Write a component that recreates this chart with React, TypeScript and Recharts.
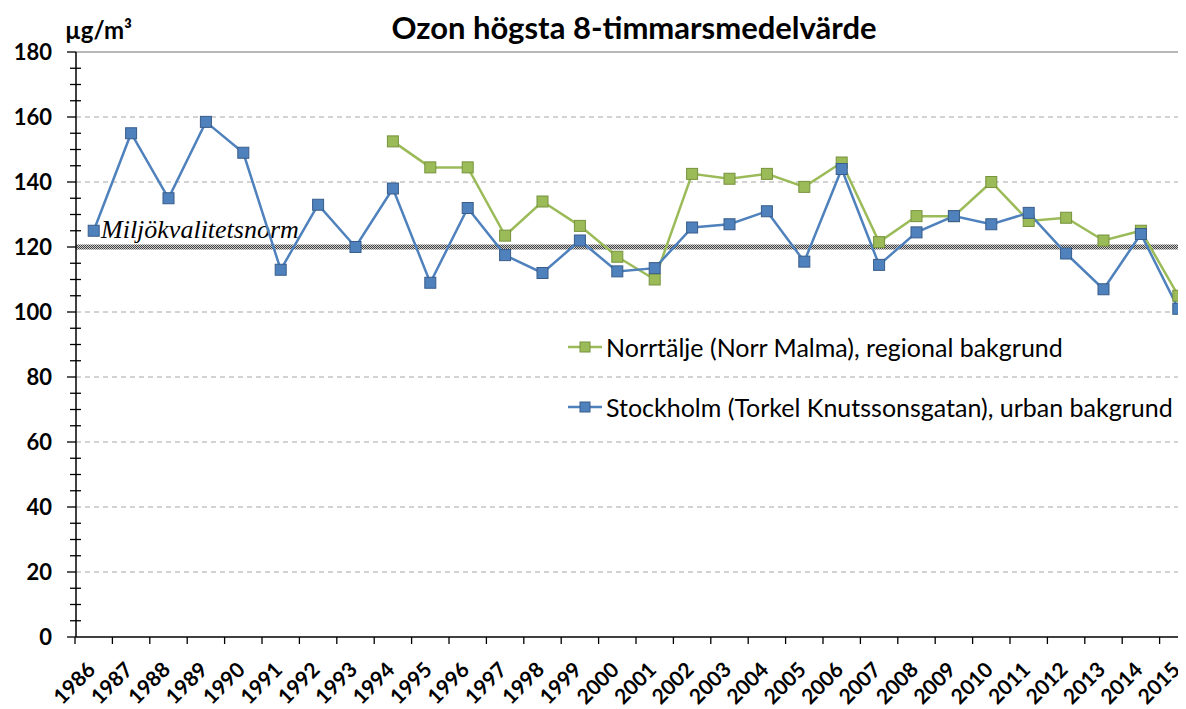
import React from 'react';
import { LineChart, Line, XAxis, YAxis, ReferenceLine } from 'recharts';

const years = [
  '1986', '1987', '1988', '1989', '1990', '1991', '1992', '1993', '1994', '1995',
  '1996', '1997', '1998', '1999', '2000', '2001', '2002', '2003', '2004', '2005',
  '2006', '2007', '2008', '2009', '2010', '2011', '2012', '2013', '2014', '2015',
];

const stockholm = [
  125, 155, 135, 158.5, 149, 113, 133, 120, 138, 109,
  132, 117.5, 112, 122, 112.5, 113.5, 126, 127, 131, 115.5,
  144, 114.5, 124.5, 129.5, 127, 130.5, 118, 107, 124, 101,
];

const norrtalje = [
  null, null, null, null, null, null, null, null, 152.5, 144.5,
  144.5, 123.5, 134, 126.5, 117, 110, 142.5, 141, 142.5, 138.5,
  146, 121.5, 129.5, 129.5, 140, 128, 129, 122, 125, 105,
];

const yTicks = [
  0, 5, 10, 15, 20, 25, 30, 35, 40, 45, 50, 55, 60, 65, 70, 75, 80, 85, 90,
  95, 100, 105, 110, 115, 120, 125, 130, 135, 140, 145, 150, 155, 160, 165,
  170, 175, 180,
];
const gridValues = [20, 40, 60, 80, 100, 120, 140, 160];
const normValue = 120;

const title = 'Ozon högsta 8-timmarsmedelvärde';
const unit = 'µg/m³';
const normLabel = 'Miljökvalitetsnorm';

const series = [
  { key: 'norrtalje', name: 'Norrtälje (Norr Malma), regional bakgrund', line: '#9bbb59', fill: '#9bbb59', edge: '#77933c' },
  { key: 'stockholm', name: 'Stockholm (Torkel Knutssonsgatan), urban bakgrund', line: '#4f81bd', fill: '#4f81bd', edge: '#385d8a' },
];

const data = years.map((year, i) => ({ year, stockholm: stockholm[i], norrtalje: norrtalje[i] }));

const FONT = 'Lato, "Open Sans", sans-serif';
const PLOT_W = 1122;
const BAND = PLOT_W / years.length;

const YTick = (props: any) => {
  const { x, y, payload } = props;
  const major = payload.value % 20 === 0;
  return (
    <g>
      {major ? (
        <>
          <line x1={x - 9} x2={x} y1={y} y2={y} stroke="#000" strokeWidth={1.3} />
          <text x={x - 24} y={y} dy="0.36em" textAnchor="end" fontFamily={FONT} fontWeight={700} fontSize={22} fill="#000">
            {payload.value}
          </text>
        </>
      ) : (
        <line x1={x - 6} x2={x + 5} y1={y} y2={y} stroke="#000" strokeWidth={1.3} />
      )}
    </g>
  );
};

const XTick = (props: any) => {
  const { x, y, payload, index } = props;
  const ax = x + 3;
  const ay = y + 34;
  return (
    <g>
      <line x1={x - BAND / 2} x2={x - BAND / 2} y1={y} y2={y + 7} stroke="#000" strokeWidth={1.3} />
      {index === years.length - 1 && (
        <line x1={x + BAND / 2} x2={x + BAND / 2} y1={y} y2={y + 7} stroke="#000" strokeWidth={1.3} />
      )}
      <text
        x={ax}
        y={ay}
        textAnchor="end"
        transform={`rotate(-45 ${ax} ${ay})`}
        fontFamily={FONT}
        fontWeight={700}
        fontSize={21}
        fill="#000"
      >
        {payload.value}
      </text>
    </g>
  );
};

const makeDot = (fill: string, edge: string) => (p: any) => {
  if (p.cy == null || p.value == null) return <g key={p.index} />;
  return <rect key={p.index} x={p.cx - 5.5} y={p.cy - 5.5} width={11} height={11} fill={fill} stroke={edge} strokeWidth={1} />;
};

const NormLabel = (props: any) => {
  const vb = props.viewBox || {};
  return (
    <text x={vb.x + 25} y={vb.y - 9} fontFamily='"Liberation Serif", "DejaVu Serif", serif' fontStyle="italic" fontSize={26} fill="#000">
      {normLabel}
    </text>
  );
};

export default function App() {
  return (
    <div style={{ position: 'relative', width: 1178, height: 701, overflow: 'hidden', background: '#fff' }}>
      <LineChart width={1199} height={701} data={data} margin={{ top: 44, right: 9, bottom: 0, left: -1 }}>
        <defs>
          <pattern id="hatch" width="2" height="2" patternUnits="userSpaceOnUse">
            <rect width="2" height="2" fill="#d0d0d0" />
            <rect width="1" height="1" fill="#404040" />
            <rect x="1" y="1" width="1" height="1" fill="#404040" />
          </pattern>
        </defs>
        <text x={626} y={31} textAnchor="middle" fontFamily={FONT} fontWeight={700} fontSize={31} fill="#000">
          {title}
        </text>
        <text x={57} y={31} textAnchor="start" fontFamily={FONT} fontWeight={700} fontSize={24} fill="#000">
          {unit}
        </text>
        <XAxis
          dataKey="year"
          interval={0}
          height={72}
          padding={{ left: BAND / 2 - 1, right: BAND / 2 + 1 }}
          axisLine={{ stroke: '#000', strokeWidth: 1.5 }}
          tickLine={false}
          tickSize={0}
          tickMargin={0}
          tick={<XTick />}
        />
        <YAxis
          domain={[0, 180]}
          ticks={yTicks}
          interval={0}
          width={69}
          axisLine={{ stroke: '#000', strokeWidth: 1.5 }}
          tickLine={false}
          tickSize={0}
          tickMargin={0}
          tick={<YTick />}
        />
        <ReferenceLine y={180} stroke="#a0a0a0" strokeWidth={1.5} />
        {gridValues.map((v) => (
          <ReferenceLine key={v} y={v} stroke="#a6a6a6" strokeWidth={1} strokeDasharray="5 4" />
        ))}
        <ReferenceLine y={normValue} stroke="url(#hatch)" strokeWidth={5} label={<NormLabel />} />
        {series.map((s) => (
          <Line
            key={s.key}
            dataKey={s.key}
            name={s.name}
            type="linear"
            stroke={s.line}
            strokeWidth={2.5}
            dot={makeDot(s.fill, s.edge)}
            activeDot={false}
            isAnimationActive={false}
          />
        ))}
      </LineChart>
      <div style={{ position: 'absolute', left: 560, top: 324, fontFamily: FONT, fontSize: 25, color: '#000' }}>
        {series.map((s) => (
          <div key={s.key} style={{ display: 'flex', alignItems: 'center', height: 30, marginBottom: 30, whiteSpace: 'nowrap' }}>
            <svg width={34} height={14} style={{ marginRight: 4 }}>
              <line x1={0} x2={34} y1={7} y2={7} stroke={s.line} strokeWidth={2.5} />
              <rect x={12} y={2} width={10} height={10} fill={s.fill} stroke={s.edge} strokeWidth={1} />
            </svg>
            <span>{s.name}</span>
          </div>
        ))}
      </div>
    </div>
  );
}
